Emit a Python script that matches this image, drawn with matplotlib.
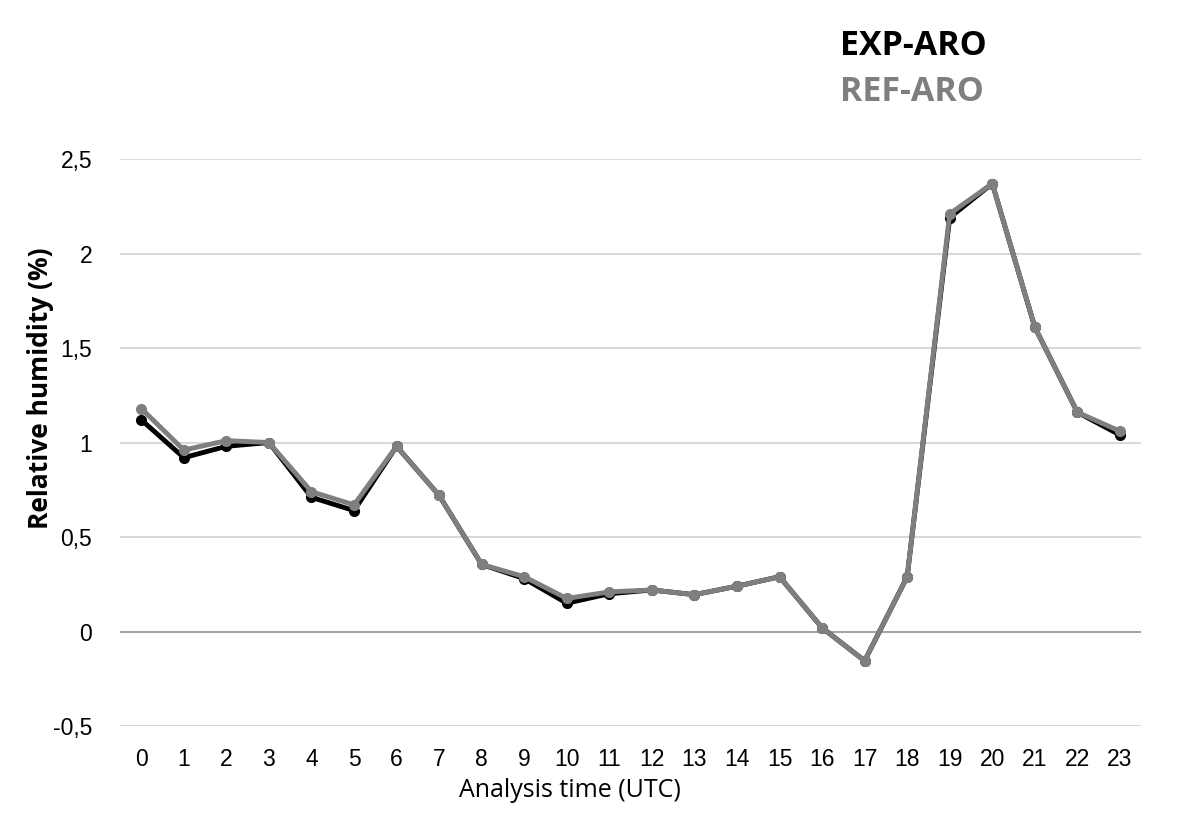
import matplotlib
matplotlib.use("Agg")
import matplotlib.pyplot as plt

hours = list(range(24))
exp_aro = [1.12, 0.92, 0.98, 1.00, 0.71, 0.64, 0.98, 0.72, 0.355, 0.28, 0.15, 0.20,
           0.22, 0.195, 0.24, 0.29, 0.02, -0.155, 0.29, 2.19, 2.37, 1.61, 1.16, 1.04]
ref_aro = [1.18, 0.96, 1.01, 1.00, 0.74, 0.67, 0.98, 0.72, 0.355, 0.29, 0.175, 0.21,
           0.22, 0.195, 0.24, 0.29, 0.02, -0.155, 0.29, 2.21, 2.37, 1.61, 1.16, 1.06]
yticks = [-0.5, 0, 0.5, 1, 1.5, 2, 2.5]
ytick_labels = ["-0,5", "0", "0,5", "1", "1,5", "2", "2,5"]

fig = plt.figure(figsize=(12, 8.26), dpi=100)
ax = fig.add_axes([0.1, 0.121, 0.851, 0.6865])

ax.plot(hours, exp_aro, color="black", lw=3.5, marker="o", ms=7, zorder=3)
ax.plot(hours, ref_aro, color="#7f7f7f", lw=3.5, marker="o", ms=7, zorder=4)

ax.set_xlim(-0.5, 23.5)
ax.set_ylim(-0.5, 2.5)
ax.set_yticks(yticks)
ax.set_yticklabels(ytick_labels)
ax.set_xticks(hours)
ax.set_xticklabels([str(h) for h in hours])
for y in yticks:
    ax.axhline(y, color="#a6a6a6" if y == 0 else "#d9d9d9", lw=1.5, zorder=1)
for s in ax.spines.values():
    s.set_visible(False)
ax.tick_params(length=0, labelsize=16.5, labelcolor="black")
for lab in ax.get_xticklabels() + ax.get_yticklabels():
    lab.set_family(["Liberation Sans", "DejaVu Sans"])
ax.tick_params(axis="y", pad=20)
ax.tick_params(axis="x", pad=16)

fig.text(0.475, 0.0424, "Analysis time (UTC)", fontsize=18, family="Open Sans",
         ha="center", va="center")
fig.text(0.034, 0.530, "Relative humidity (%)", fontsize=19, family="Open Sans",
         fontweight="bold", rotation=90, ha="center", va="center")

fig.text(0.7, 0.944, "EXP-ARO", fontsize=24.5, family="Open Sans", fontweight="bold",
         color="black", va="center", ha="left")
fig.text(0.7, 0.889, "REF-ARO", fontsize=24.5, family="Open Sans", fontweight="bold",
         color="#7f7f7f", va="center", ha="left")

fig.savefig("out.png", dpi=100)
